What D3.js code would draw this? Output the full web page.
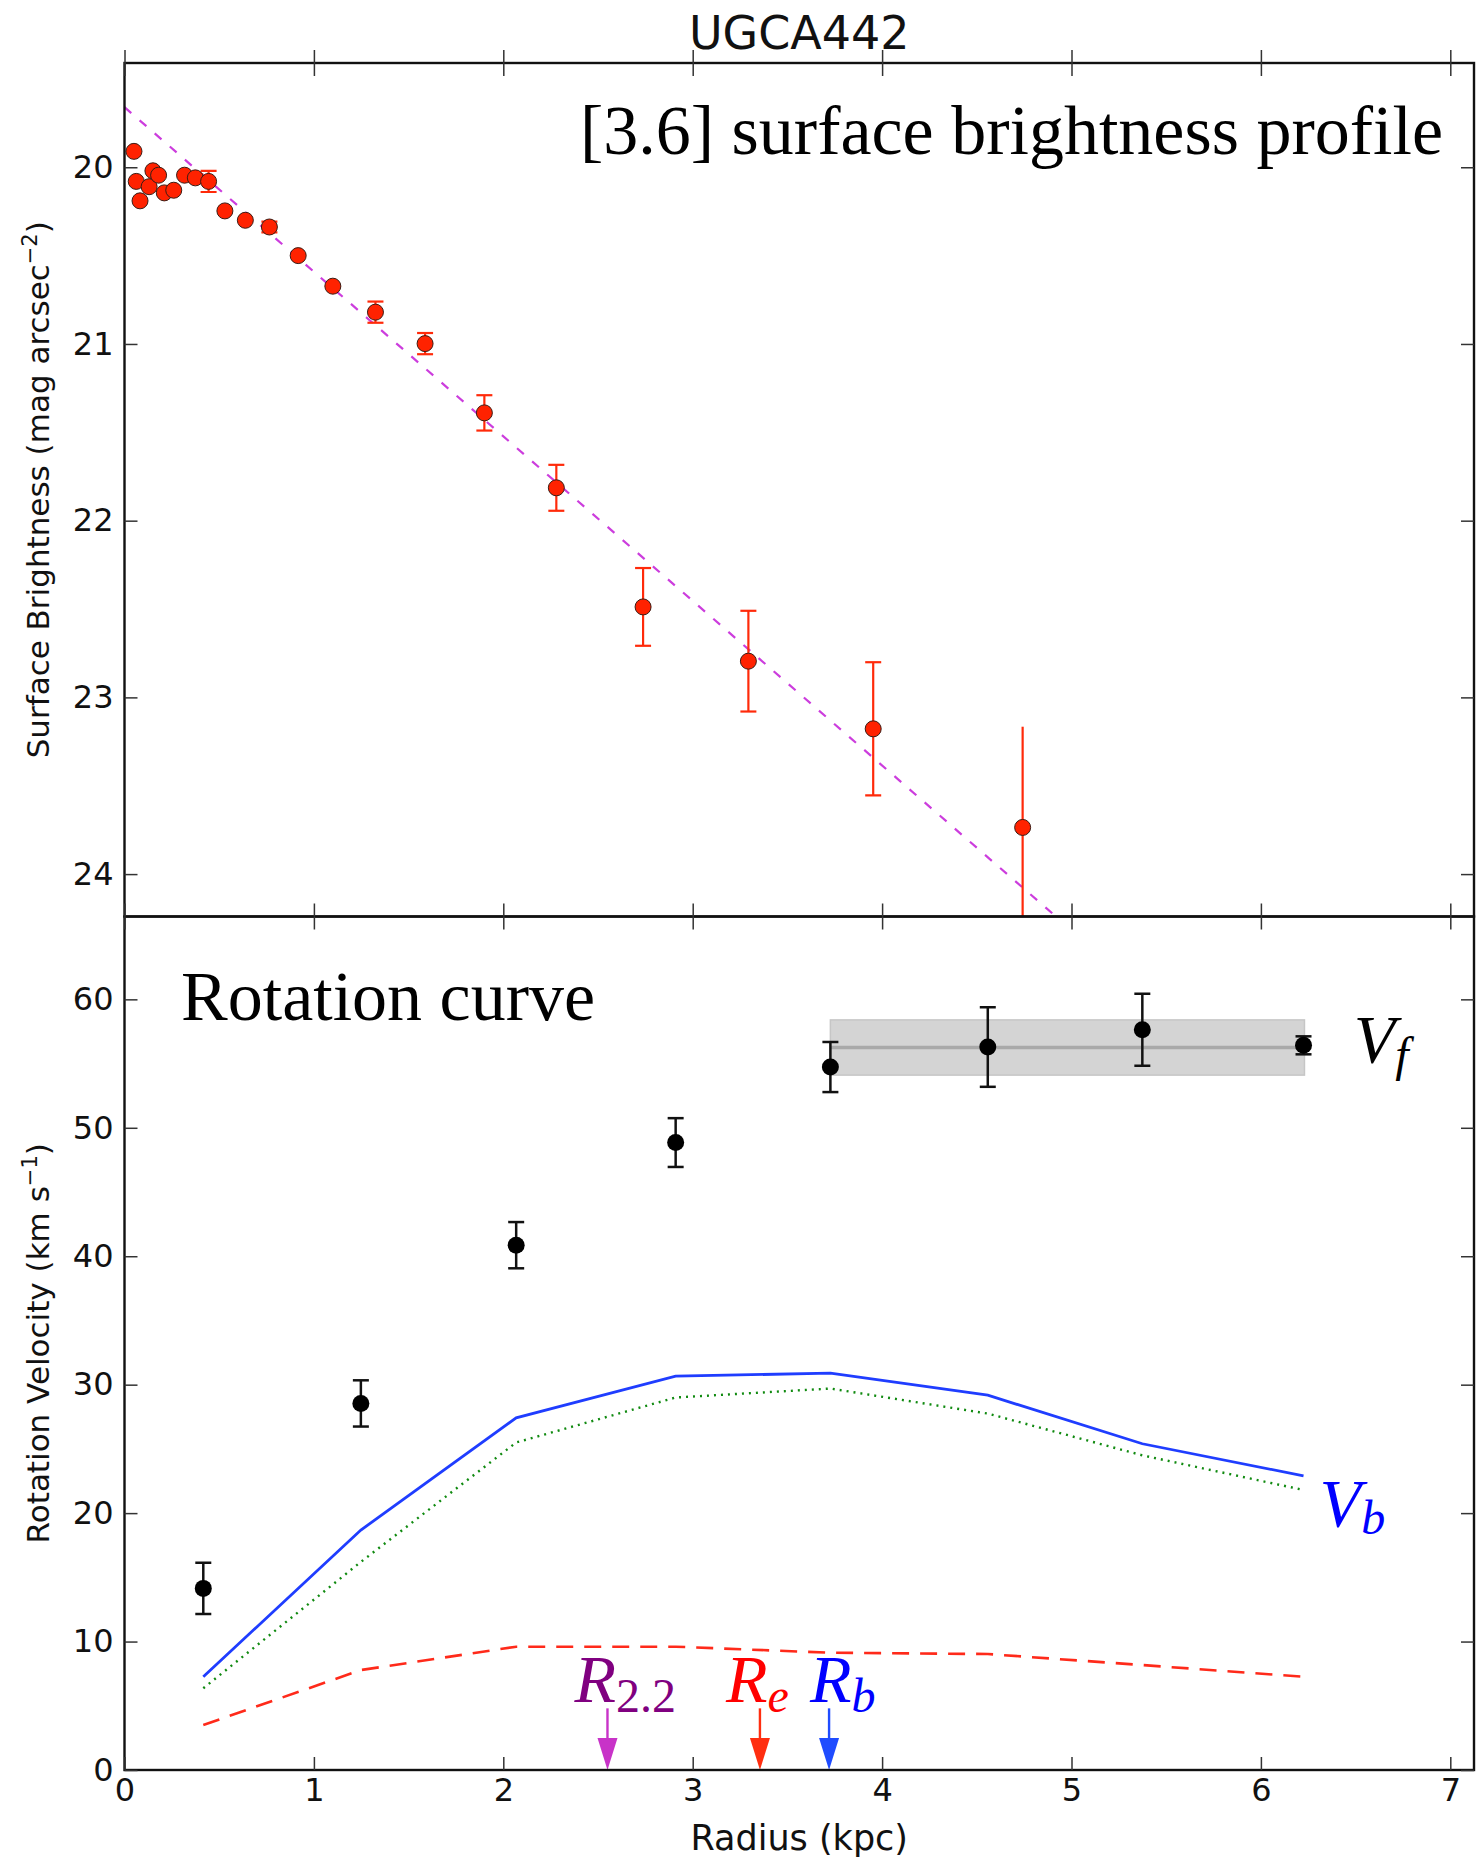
<!DOCTYPE html>
<html>
<head>
<meta charset="utf-8">
<script src="https://cdn.jsdelivr.net/npm/d3@7"></script>
<style>
  body { margin: 0; background: #fff; }
</style>
</head>
<body>
<div id="wrapper"></div>
<script>
// [3.6] surface brightness profile (radius in kpc, mag arcsec^-2)
const sbRadius = [0.05, 0.062, 0.082, 0.13, 0.15, 0.18, 0.21, 0.26, 0.317, 0.374, 0.444, 0.53,
                  0.638, 0.765, 0.917, 1.10, 1.325, 1.587, 1.90, 2.28, 2.738, 3.294, 3.953, 4.742];
const sbMu = [19.91, 20.08, 20.19, 20.11, 20.02, 20.045, 20.145, 20.13, 20.045, 20.06, 20.08, 20.247,
              20.30, 20.338, 20.50, 20.673, 20.82, 20.998, 21.39, 21.814, 22.488, 22.795, 23.178, 23.736];
const sbErr = [0, 0, 0, 0, 0, 0, 0, 0, 0, 0.02, 0.06, 0,
               0, 0.03, 0, 0, 0.06, 0.06, 0.10, 0.13, 0.22, 0.285, 0.377, 0.57];

// exponential disk fit (dashed)
const fitRadius = [0, 4.95];
const fitMu = [19.66, 24.27];

// rotation curve
const rcRadius = [0.416, 1.248, 2.068, 2.91, 3.727, 4.558, 5.374, 6.225];
const vObs = [14.14, 28.54, 40.86, 48.85, 54.73, 56.29, 57.63, 56.42];
const vErr = [2.0, 1.8, 1.8, 1.9, 1.95, 3.1, 2.8, 0.7];
const vBar = [7.26, 18.68, 27.42, 30.66, 30.9, 29.18, 25.4, 22.9];
const vDisk = [6.36, 16.2, 25.5, 29.0, 29.7, 27.75, 24.5, 21.8];
const vGas = [3.5, 7.78, 9.6, 9.6, 9.13, 9.03, 8.17, 7.26];

// flat velocity band
const vfRange = [3.727, 6.23];
const vf = 56.25;
const vfErr = 2.15;

// characteristic radii
const radiusMarks = ["R2.2", "Re", "Rb"];
const radiusValues = [2.55, 3.355, 3.72];

const xTicks = [0, 1, 2, 3, 4, 5, 6, 7];
const sbTicks = [20, 21, 22, 23, 24];
const vTicks = [0, 10, 20, 30, 40, 50, 60];

const dimensions = {
  width: 1476,
  height: 1860,
  left: 124.5,
  right: 1474,
  top: 63,
  middle: 916.5,
  bottom: 1770,
}

const svg = d3.select("#wrapper")
  .append("svg")
    .attr("width", dimensions.width)
    .attr("height", dimensions.height)

const xScale = d3.scaleLinear()
  .domain([0, (dimensions.right - dimensions.left) / 189.4])
  .range([dimensions.left, dimensions.right])

const sbScale = d3.scaleLinear()
  .domain([19.41, 24.24])
  .range([dimensions.top, dimensions.middle])

const vScale = d3.scaleLinear()
  .domain([0, 66.45])
  .range([dimensions.bottom, dimensions.middle])

const sans = "DejaVu Sans, sans-serif"
const serif = "Liberation Serif, Times New Roman, serif"

// clip paths
const defs = svg.append("defs")
defs.append("clipPath").attr("id", "clipTop")
  .append("rect")
    .attr("x", dimensions.left).attr("y", dimensions.top)
    .attr("width", dimensions.right - dimensions.left)
    .attr("height", dimensions.middle - dimensions.top)
defs.append("clipPath").attr("id", "clipBottom")
  .append("rect")
    .attr("x", dimensions.left).attr("y", dimensions.middle)
    .attr("width", dimensions.right - dimensions.left)
    .attr("height", dimensions.bottom - dimensions.middle)

// ---------- top panel ----------
const topPanel = svg.append("g").attr("clip-path", "url(#clipTop)")

const fitLine = d3.line()
  .x(d => xScale(d[0]))
  .y(d => sbScale(d[1]))

topPanel.append("path")
  .attr("d", fitLine(d3.zip(fitRadius, fitMu)))
  .attr("fill", "none")
  .attr("stroke", "#cc3ddd")
  .attr("stroke-width", 2.2)
  .attr("stroke-dasharray", "9,11")

const sbData = sbRadius.map((r, i) => ({ r, mu: sbMu[i], err: sbErr[i] }))

const sbBars = topPanel.append("g")
  .attr("stroke", "#ff2a0a")
  .attr("stroke-width", 2.2)
sbData.filter(d => d.err > 0).forEach(d => {
  const x = xScale(d.r)
  const y0 = sbScale(d.mu - d.err)
  const y1 = sbScale(d.mu + d.err)
  sbBars.append("line").attr("x1", x).attr("x2", x).attr("y1", y0).attr("y2", y1)
  if (d.mu + d.err < sbScale.domain()[1]) {
    sbBars.append("line").attr("x1", x - 8).attr("x2", x + 8).attr("y1", y0).attr("y2", y0)
    sbBars.append("line").attr("x1", x - 8).attr("x2", x + 8).attr("y1", y1).attr("y2", y1)
  }
})

topPanel.append("g").selectAll("circle")
  .data(sbData)
  .join("circle")
    .attr("cx", d => xScale(d.r))
    .attr("cy", d => sbScale(d.mu))
    .attr("r", 8)
    .attr("fill", "#ff2200")
    .attr("stroke", "#3a1c14")
    .attr("stroke-width", 1)

// ---------- bottom panel ----------
const bottomPanel = svg.append("g").attr("clip-path", "url(#clipBottom)")

bottomPanel.append("rect")
  .attr("x", xScale(vfRange[0]))
  .attr("width", xScale(vfRange[1]) - xScale(vfRange[0]))
  .attr("y", vScale(vf + vfErr))
  .attr("height", vScale(vf - vfErr) - vScale(vf + vfErr))
  .attr("fill", "#d4d4d4")
  .attr("stroke", "#c6c6c6")
  .attr("stroke-width", 1.5)

bottomPanel.append("line")
  .attr("x1", xScale(vfRange[0]))
  .attr("x2", xScale(vfRange[1]))
  .attr("y1", vScale(vf))
  .attr("y2", vScale(vf))
  .attr("stroke", "#a9a9a9")
  .attr("stroke-width", 3.5)

const rcLine = d3.line()
  .x(d => xScale(d[0]))
  .y(d => vScale(d[1]))

bottomPanel.append("path")
  .attr("d", rcLine(d3.zip(rcRadius, vGas)))
  .attr("fill", "none")
  .attr("stroke", "#ff2a1a")
  .attr("stroke-width", 2.6)
  .attr("stroke-dasharray", "17,11")

bottomPanel.append("path")
  .attr("d", rcLine(d3.zip(rcRadius, vDisk)))
  .attr("fill", "none")
  .attr("stroke", "#108a10")
  .attr("stroke-width", 2.4)
  .attr("stroke-dasharray", "2,5")

bottomPanel.append("path")
  .attr("d", rcLine(d3.zip(rcRadius, vBar)))
  .attr("fill", "none")
  .attr("stroke", "#1f3dff")
  .attr("stroke-width", 2.8)

const rcData = rcRadius.map((r, i) => ({ r, v: vObs[i], err: vErr[i] }))

const rcBars = bottomPanel.append("g")
  .attr("stroke", "#111")
  .attr("stroke-width", 2.5)
rcData.forEach(d => {
  const x = xScale(d.r)
  const y0 = vScale(d.v + d.err)
  const y1 = vScale(d.v - d.err)
  rcBars.append("line").attr("x1", x).attr("x2", x).attr("y1", y0).attr("y2", y1)
  rcBars.append("line").attr("x1", x - 8).attr("x2", x + 8).attr("y1", y0).attr("y2", y0)
  rcBars.append("line").attr("x1", x - 8).attr("x2", x + 8).attr("y1", y1).attr("y2", y1)
})

bottomPanel.append("g").selectAll("circle")
  .data(rcData)
  .join("circle")
    .attr("cx", d => xScale(d.r))
    .attr("cy", d => vScale(d.v))
    .attr("r", 8.5)
    .attr("fill", "#000")

// radius arrows
const arrowColors = ["#c833c8", "#ff2e10", "#1f4cff"]
radiusValues.forEach((r, i) => {
  const x = xScale(r)
  const tail = vScale(4.8)
  const headTop = vScale(2.5)
  const tip = vScale(0)
  bottomPanel.append("line")
    .attr("x1", x).attr("x2", x).attr("y1", tail).attr("y2", headTop + 2)
    .attr("stroke", arrowColors[i]).attr("stroke-width", 2.4)
  bottomPanel.append("path")
    .attr("d", `M${x - 10},${headTop} L${x + 10},${headTop} L${x},${tip} Z`)
    .attr("fill", arrowColors[i])
})

// ---------- spines ----------
svg.append("rect")
  .attr("x", dimensions.left).attr("y", dimensions.top)
  .attr("width", dimensions.right - dimensions.left)
  .attr("height", dimensions.middle - dimensions.top)
  .attr("fill", "none").attr("stroke", "#111").attr("stroke-width", 2.4)
svg.append("rect")
  .attr("x", dimensions.left).attr("y", dimensions.middle)
  .attr("width", dimensions.right - dimensions.left)
  .attr("height", dimensions.bottom - dimensions.middle)
  .attr("fill", "none").attr("stroke", "#111").attr("stroke-width", 2.4)

// ---------- axes ----------
function styleAxis(g, fontSize) {
  g.select(".domain").remove()
  g.selectAll(".tick line").attr("stroke", "#333").attr("stroke-width", 1.5)
  g.selectAll(".tick text")
    .attr("fill", "#111")
    .style("font-family", sans)
    .style("font-size", fontSize + "px")
}

// bottom panel x axis with labels
svg.append("g")
  .attr("transform", `translate(0,${dimensions.bottom})`)
  .call(d3.axisBottom(xScale).tickValues(xTicks).tickFormat(d3.format("d"))
    .tickSizeInner(-13).tickSizeOuter(0).tickPadding(8))
  .call(g => styleAxis(g, 32))

// unlabelled x ticks at the panel boundary and the top
;[dimensions.middle, dimensions.top].forEach(y => {
  svg.append("g")
    .attr("transform", `translate(0,${y})`)
    .call(d3.axisBottom(xScale).tickValues(xTicks).tickFormat("")
      .tickSizeInner(-13).tickSizeOuter(0))
    .call(g => styleAxis(g, 32))
  svg.append("g")
    .attr("transform", `translate(0,${y})`)
    .call(d3.axisTop(xScale).tickValues(xTicks).tickFormat("")
      .tickSizeInner(-13).tickSizeOuter(0))
    .call(g => styleAxis(g, 32))
})

svg.append("g")
  .attr("transform", `translate(${dimensions.left},0)`)
  .call(d3.axisLeft(sbScale).tickValues(sbTicks).tickFormat(d3.format("d"))
    .tickSizeInner(-13).tickSizeOuter(0).tickPadding(11))
  .call(g => styleAxis(g, 32))
svg.append("g")
  .attr("transform", `translate(${dimensions.right},0)`)
  .call(d3.axisRight(sbScale).tickValues(sbTicks).tickFormat("")
    .tickSizeInner(-13).tickSizeOuter(0))
  .call(g => styleAxis(g, 32))

svg.append("g")
  .attr("transform", `translate(${dimensions.left},0)`)
  .call(d3.axisLeft(vScale).tickValues(vTicks).tickFormat(d3.format("d"))
    .tickSizeInner(-13).tickSizeOuter(0).tickPadding(11))
  .call(g => styleAxis(g, 32))
svg.append("g")
  .attr("transform", `translate(${dimensions.right},0)`)
  .call(d3.axisRight(vScale).tickValues(vTicks).tickFormat("")
    .tickSizeInner(-13).tickSizeOuter(0))
  .call(g => styleAxis(g, 32))

// ---------- labels ----------
svg.append("text")
  .attr("x", (dimensions.left + dimensions.right) / 2)
  .attr("y", 49)
  .attr("text-anchor", "middle")
  .style("font-family", sans)
  .style("font-size", "46px")
  .attr("fill", "#111")
  .text("UGCA442")

svg.append("text")
  .attr("x", (dimensions.left + dimensions.right) / 2)
  .attr("y", 1850)
  .attr("text-anchor", "middle")
  .style("font-family", sans)
  .style("font-size", "35px")
  .attr("fill", "#111")
  .text("Radius (kpc)")

function yLabel(text, sup, cy) {
  const t = svg.append("text")
    .attr("transform", `translate(49,${cy}) rotate(-90)`)
    .attr("text-anchor", "middle")
    .style("font-family", sans)
    .style("font-size", "31px")
    .attr("fill", "#111")
  t.append("tspan").text(text)
  t.append("tspan").attr("dy", -12).style("font-size", "21px").text(sup)
  t.append("tspan").attr("dy", 12).text(")")
}
yLabel("Surface Brightness (mag arcsec", "\u22122", (dimensions.top + dimensions.middle) / 2)
yLabel("Rotation Velocity (km s", "\u22121", (dimensions.middle + dimensions.bottom) / 2)

svg.append("text")
  .attr("x", 1443)
  .attr("y", 154)
  .attr("text-anchor", "end")
  .style("font-family", serif)
  .style("font-size", "70px")
  .text("[3.6] surface brightness profile")

svg.append("text")
  .attr("x", 181)
  .attr("y", 1020)
  .style("font-family", serif)
  .style("font-size", "70px")
  .text("Rotation curve")

function mathLabel(x, y, main, sub, color, subItalic, subShift) {
  const t = svg.append("text")
    .attr("x", x).attr("y", y)
    .style("font-family", serif)
    .style("font-size", "68px")
    .attr("fill", color)
  t.append("tspan").style("font-style", "italic").text(main)
  t.append("tspan")
    .attr("dy", subShift)
    .style("font-size", "48px")
    .style("font-style", subItalic ? "italic" : "normal")
    .text(sub)
}

mathLabel(xScale(6.49), vScale(55.1), "V", "f", "#000", true, 9)
mathLabel(xScale(6.31), vScale(19.0), "V", "b", "#0000ff", true, 8)

const markLabels = [
  { main: "R", sub: "2.2", color: "#800080", italic: false, dx: -33 },
  { main: "R", sub: "e", color: "#ff0000", italic: true, dx: -34 },
  { main: "R", sub: "b", color: "#0000ff", italic: true, dx: -19 },
]
radiusMarks.forEach((name, i) => {
  const m = markLabels[i]
  mathLabel(xScale(radiusValues[i]) + m.dx, vScale(5.3), m.main, m.sub, m.color, m.italic, 10)
})
</script>
</body>
</html>
